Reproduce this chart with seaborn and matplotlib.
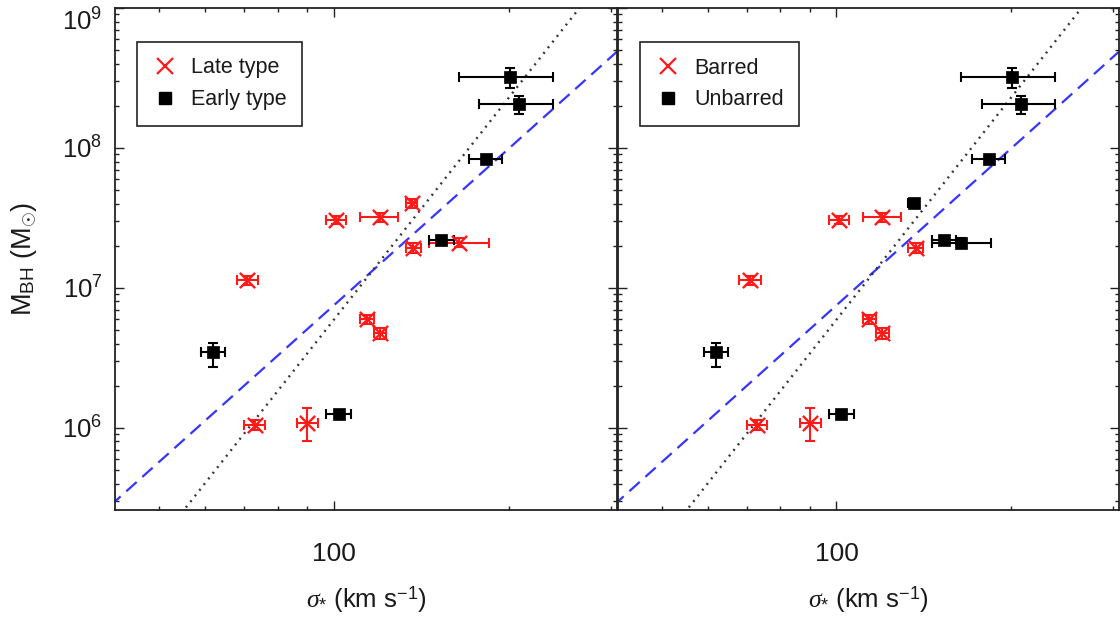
import numpy as np
import pandas as pd
import matplotlib
matplotlib.use("Agg")
import matplotlib.pyplot as plt
import seaborn as sns
from matplotlib.ticker import LogLocator, NullFormatter, StrMethodFormatter
from matplotlib.lines import Line2D

# ---------------- data ----------------
sigma = [201, 208, 183, 153, 62, 102, 136, 101, 120, 137, 164, 71, 114, 120, 73, 90]
sigma_err_lo = [37, 30, 12, 7, 3, 5, 3, 4, 9, 4, 18, 3, 3, 3, 3, 3.6]
sigma_err_hi = [37, 30, 12, 8, 3, 5, 3, 4, 9, 4, 21, 3, 3, 3, 3, 3.9]
mbh = [3.2e8, 2.05e8, 8.4e7, 2.2e7, 3.5e6, 1.26e6, 4.05e7, 3.08e7, 3.2e7,
       1.93e7, 2.11e7, 1.13e7, 5.96e6, 4.74e6, 1.05e6, 1.08e6]
mbh_err_lo = [0.5e8, 0.31e8, 0.5e7, 0.1e7, 0.77e6, 0.06e6, 0.3e7, 0.2e7, 0.25e7,
              0.15e7, 0.15e7, 0.08e7, 0.45e6, 0.4e6, 0.08e6, 0.27e6]
mbh_err_hi = [0.5e8, 0.32e8, 0.5e7, 0.1e7, 0.55e6, 0.06e6, 0.3e7, 0.2e7, 0.25e7,
              0.15e7, 0.15e7, 0.08e7, 0.45e6, 0.4e6, 0.08e6, 0.31e6]
morphology = ["Early type"] * 6 + ["Late type"] * 10
bar_class = ["Unbarred"] * 6 + ["Unbarred", "Barred", "Barred", "Barred", "Unbarred",
                                "Barred", "Barred", "Barred", "Barred", "Barred"]

# fitted relations: log M = a + b * log10(sigma / 200)
fit_dashed = (7.996, 3.72)
fit_dotted = (8.36, 5.27)

xlim = (42.0, 307.0)
ylim = (2.59e5, 1.0e9)

df = pd.DataFrame({
    "sigma": sigma, "slo": sigma_err_lo, "shi": sigma_err_hi,
    "mbh": mbh, "mlo": mbh_err_lo, "mhi": mbh_err_hi,
    "morph": morphology, "bar": bar_class,
})

# ---------------- style ----------------
sns.set_theme(style="ticks")
plt.rcParams["font.family"] = ["Liberation Sans", "DejaVu Sans"]
plt.rcParams["mathtext.fontset"] = "custom"
plt.rcParams["mathtext.rm"] = "Liberation Sans"
plt.rcParams["mathtext.it"] = "Liberation Serif:italic"
plt.rcParams["mathtext.bf"] = "Liberation Sans:bold"
plt.rcParams["lines.scale_dashes"] = False
plt.rcParams["axes.linewidth"] = 1.3

RED = "#ff1a1a"
BLACK = "#000000"
BLUE = "#3535ff"
TXT = "#1a1a1a"

fig = plt.figure(figsize=(11.2, 6.2), dpi=100)
W, H = 1120.0, 620.0
ax1 = fig.add_axes([115 / W, 1 - 510 / H, 502 / W, 502 / H])
ax2 = fig.add_axes([618 / W, 1 - 510 / H, 501 / W, 502 / H])

xs = np.geomspace(30, 400, 60)
lines_df = pd.DataFrame({
    "sigma": np.concatenate([xs, xs]),
    "mbh": np.concatenate([10 ** (fit_dashed[0] + fit_dashed[1] * np.log10(xs / 200)),
                           10 ** (fit_dotted[0] + fit_dotted[1] * np.log10(xs / 200))]),
    "fit": ["dashed"] * len(xs) + ["dotted"] * len(xs),
})


def draw_panel(ax, col, xgroup, sgroup, labels):
    sns.lineplot(data=lines_df[lines_df.fit == "dashed"], x="sigma", y="mbh", ax=ax,
                 color=BLUE, lw=1.6, linestyle=(0, (10, 5.5)), zorder=1, legend=False)
    sns.lineplot(data=lines_df[lines_df.fit == "dotted"], x="sigma", y="mbh", ax=ax,
                 color="#333333", lw=1.7, linestyle=(0, (1.4, 3.8)), zorder=1, legend=False)

    for grp, color in [(xgroup, RED), (sgroup, BLACK)]:
        sub = df[df[col] == grp]
        ax.errorbar(sub["sigma"], sub["mbh"],
                    xerr=[sub["slo"], sub["shi"]], yerr=[sub["mlo"], sub["mhi"]],
                    fmt="none", ecolor=color, elinewidth=1.5, capsize=3.6, capthick=1.5,
                    zorder=2)
    subx = df[df[col] == xgroup]
    subs = df[df[col] == sgroup]
    sns.scatterplot(data=subx, x="sigma", y="mbh", ax=ax, marker="x", s=120,
                    color=RED, linewidth=1.7, zorder=3, legend=False)
    sns.scatterplot(data=subs, x="sigma", y="mbh", ax=ax, marker="s", s=85,
                    color=BLACK, edgecolor=BLACK, linewidth=0.5, zorder=3, legend=False)

    ax.set_xscale("log")
    ax.set_yscale("log")
    ax.set_xlim(*xlim)
    ax.set_ylim(*ylim)

    ax.xaxis.set_major_locator(LogLocator(base=10, numticks=10))
    ax.xaxis.set_minor_locator(LogLocator(base=10, subs=np.arange(2, 10), numticks=20))
    ax.xaxis.set_major_formatter(StrMethodFormatter("{x:.0f}"))
    ax.xaxis.set_minor_formatter(NullFormatter())
    ax.yaxis.set_major_locator(LogLocator(base=10, numticks=10))
    ax.yaxis.set_minor_locator(LogLocator(base=10, subs=np.arange(2, 10), numticks=20))
    ax.yaxis.set_minor_formatter(NullFormatter())

    ax.tick_params(which="both", direction="in", top=True, right=True, colors="#222222")
    ax.tick_params(which="major", length=6.5, width=1.0)
    ax.tick_params(which="minor", length=3.2, width=1.0)
    ax.tick_params(axis="x", which="major", pad=23, labelsize=19, labelcolor=TXT)
    ax.tick_params(axis="y", which="major", pad=9, labelsize=18.5, labelcolor=TXT)
    for sp in ax.spines.values():
        sp.set_color("#222222")
        sp.set_linewidth(1.3)

    ax.set_xlabel(r"$\sigma_{*}$ (km s$^{\mathregular{-1}}$)", fontsize=18.5, color=TXT)
    ax.xaxis.set_label_coords(0.5, -0.147)

    handles = [
        Line2D([], [], marker="x", color=RED, linestyle="none", markersize=11,
               markeredgewidth=1.6),
        Line2D([], [], marker="s", color=BLACK, linestyle="none", markersize=8),
    ]
    leg = ax.legend(handles, labels, loc="upper left",
                    bbox_to_anchor=(22 / 502, 1 - 34 / 502), borderaxespad=0,
                    fontsize=15.5, frameon=True, fancybox=False, framealpha=1,
                    edgecolor="#222222", borderpad=0.72, labelspacing=0.5,
                    handlelength=1.2, handletextpad=0.6)
    leg.get_frame().set_linewidth(1.2)
    for t in leg.get_texts():
        t.set_color(TXT)


draw_panel(ax1, "morph", "Late type", "Early type", ["Late type", "Early type"])
draw_panel(ax2, "bar", "Barred", "Unbarred", ["Barred", "Unbarred"])

ax1.set_ylabel(r"M$_{\mathregular{BH}}$ (M$_{\odot}$)", fontsize=19.5, color=TXT)
ax1.yaxis.set_label_coords(-0.152, 0.5)
ax2.set_ylabel("")
ax2.tick_params(axis="y", which="both", labelleft=False)

# keep the top tick label (10^9) inside the figure, as in the reference
fig.canvas.draw()
for tick in ax1.yaxis.get_major_ticks():
    if np.isclose(tick.get_loc(), 1e9):
        tick.label1.set_verticalalignment("top")

fig.savefig("out.png", dpi=100)
